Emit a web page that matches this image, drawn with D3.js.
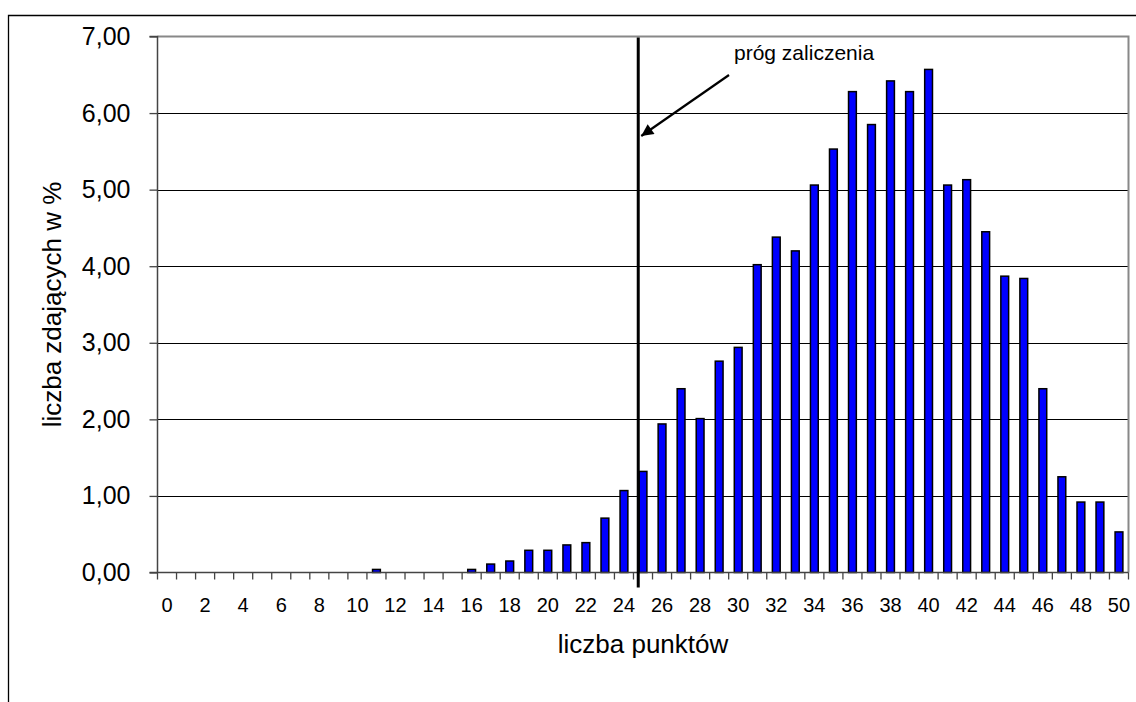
<!DOCTYPE html>
<html><head><meta charset="utf-8">
<script src="https://cdn.jsdelivr.net/npm/d3@7"></script>
<style>
html,body{margin:0;padding:0;background:#fff;}
svg{display:block;font-family:"Liberation Sans",Arial,sans-serif;}
</style></head>
<body>
<svg id="c" width="1136" height="702"></svg>
<script>
const categories = d3.range(0, 51).map(String);
const values = [
  0,0,0,0,0,0,0,0,0,0,
  0,0.04,0,0,0,0,0.04,0.11,0.15,0.29,
  0.29,0.36,0.39,0.71,1.07,1.32,1.94,2.40,2.01,2.76,
  2.94,4.02,4.38,4.20,5.06,5.53,6.28,5.85,6.42,6.28,
  6.57,5.06,5.13,4.45,3.87,3.84,2.40,1.25,0.92,0.92,
  0.53
];
const xTickLabels = d3.range(0, 51, 2).map(String);
const yTicks = [0,1,2,3,4,5,6,7];
const thresholdCategory = "25";
const annotationText = "próg zaliczenia";
const xTitle = "liczba punktów";
const yTitle = "liczba zdających w %";

const svg = d3.select("#c");
const L = 157.5, R = 1128.5, T = 36.5, B = 572.5;

const x = d3.scaleBand().domain(categories).range([L, R]).padding(0);
const y = d3.scaleLinear().domain([0, 7]).range([B, T]);
const bw = x.bandwidth();

// outer chart border
svg.append("path").attr("d", `M8.5,702 L8.5,15.5 L1136,15.5`)
  .attr("fill","none").attr("stroke","#000").attr("stroke-width",1.3);

// gridlines
svg.append("g").selectAll("line").data(yTicks.filter(v => v > 0 && v < 7)).join("line")
  .attr("x1", L).attr("x2", R).attr("y1", d => Math.round(y(d)) + 0.5).attr("y2", d => Math.round(y(d)) + 0.5)
  .attr("stroke", "#000").attr("stroke-width", 1);

// plot area border (top/right)
svg.append("path").attr("d", `M${L},${T} L${R},${T} L${R},${B}`)
  .attr("fill","none").attr("stroke","#888").attr("stroke-width",2);

// bars
const barW = bw * 0.41;
svg.append("g").selectAll("rect").data(categories.map((c,i)=>({c, v: values[i]})).filter(d => d.v > 0)).join("rect")
  .attr("x", d => x(d.c) + bw/2 - barW/2)
  .attr("width", barW)
  .attr("y", d => y(d.v))
  .attr("height", d => y(0) - y(d.v))
  .attr("fill", "#0000ff")
  .attr("stroke", "#000").attr("stroke-width", 1.5);

// y axis
const yAxis = d3.axisLeft(y).tickValues(yTicks).tickSize(8).tickPadding(19)
  .tickFormat(d => d3.format(".2f")(d).replace(".", ","));
const gy = svg.append("g").attr("transform", `translate(${L},0)`).call(yAxis);
gy.select(".domain").attr("stroke", "#444").attr("stroke-width", 1.5).attr("d", `M-8,${T}H0V${B}`);
gy.selectAll(".tick line").attr("stroke", "#444").attr("stroke-width", 1.3);
gy.selectAll(".tick text").attr("font-size", 25).attr("fill", "#000")
  .attr("font-family", '"Liberation Sans",Arial,sans-serif');

// x axis: ticks at band boundaries, labels on even categories
const gx = svg.append("g").attr("transform", `translate(0,${B})`);
gx.append("line").attr("x1", L - 8).attr("x2", R).attr("y1", 0).attr("y2", 0)
  .attr("stroke", "#444").attr("stroke-width", 1.5);
gx.selectAll("line.tk").data(categories.concat(["end"])).join("line").attr("class","tk")
  .attr("x1", d => d === "end" ? R : x(d)).attr("x2", d => d === "end" ? R : x(d))
  .attr("y1", 0).attr("y2", 7).attr("stroke", "#444").attr("stroke-width", 1.3);
gx.selectAll("text").data(xTickLabels).join("text")
  .attr("x", d => x(d) + bw/2).attr("y", 39)
  .attr("text-anchor", "middle").attr("font-size", 20).attr("fill", "#000")
  .text(d => d);

// axis titles
svg.append("text").attr("x", (L + R)/2).attr("y", 653)
  .attr("text-anchor", "middle").attr("font-size", 26).attr("fill","#000").text(xTitle);
svg.append("text").attr("transform", `translate(61,${(T + B)/2}) rotate(-90)`)
  .attr("text-anchor", "middle").attr("font-size", 26).attr("fill","#000").text(yTitle);

// threshold line
const tx = x(thresholdCategory) + bw * 0.25;
svg.append("line").attr("x1", tx).attr("x2", tx).attr("y1", T + 1).attr("y2", B + 15)
  .attr("stroke", "#000").attr("stroke-width", 3);

// annotation arrow
svg.append("defs").append("marker").attr("id","ah")
  .attr("viewBox","0 0 10 10").attr("refX",10).attr("refY",5)
  .attr("markerWidth",16).attr("markerHeight",12).attr("markerUnits","userSpaceOnUse")
  .attr("orient","auto")
  .append("path").attr("d","M0,0 L10,5 L0,10 z").attr("fill","#000");
svg.append("line").attr("x1", 729).attr("y1", 75).attr("x2", tx + 3).attr("y2", 136)
  .attr("stroke","#000").attr("stroke-width",2.2).attr("marker-end","url(#ah)");
svg.append("text").attr("x", 734).attr("y", 60).attr("font-size", 21).attr("fill","#000").text(annotationText);
</script>
</body></html>
